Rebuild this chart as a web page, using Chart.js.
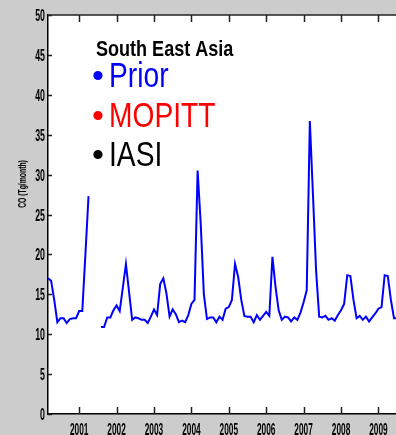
<!DOCTYPE html>
<html>
<head>
<meta charset="utf-8">
<script src="https://cdn.jsdelivr.net/npm/chart.js@4.4.1/dist/chart.umd.min.js"></script>
<style>
  html, body { margin: 0; padding: 0; background: #cccccc; }
  canvas { display: block; }
</style>
</head>
<body>
<canvas id="coChart" width="396" height="435"></canvas>
<script>
// monthly CO emissions, first value is March 2000
const startYear = 2000;
const startMonth = 3;
const priorCO = [
  17.0, 16.7, 14.3, 11.5, 12.0, 12.0, 11.4, 11.9, 12.0, 12.0, 12.9, 12.9, 20.0, 27.3,
  null, null, null,
  10.9, 10.9, 12.1, 12.1, 13.0, 13.6, 12.9, 15.8, 18.8, 15.3, 11.8, 12.1, 12.0, 11.8,
  11.8, 11.4, 12.2, 13.1, 12.4, 16.3, 17.0, 15.1, 12.2, 13.1, 12.5, 11.5, 11.7, 11.5,
  12.4, 13.8, 14.3, 30.5, 23.8, 15.0, 11.9, 12.1, 12.1, 11.5, 12.2, 11.8, 13.2, 13.4,
  14.3, 18.8, 17.2, 14.3, 12.3, 12.2, 12.2, 11.5, 12.4, 11.8, 12.3, 12.8, 12.3, 19.7,
  15.9, 13.0, 11.8, 12.2, 12.1, 11.6, 12.1, 11.8, 12.7, 14.0, 15.5, 36.7, 27.5, 18.0,
  12.2, 12.1, 12.3, 11.8, 12.0, 11.7, 12.4, 13.0, 13.8, 17.4, 17.3, 14.3, 12.0, 12.3,
  11.8, 12.2, 11.6, 12.1, 12.6, 13.2, 13.4, 17.4, 17.3, 14.3, 12.0, 12.0
];
const yearTicks = [2001, 2002, 2003, 2004, 2005, 2006, 2007, 2008, 2009];
const yTicks = [0, 5, 10, 15, 20, 25, 30, 35, 40, 45, 50];
const regionName = 'South East Asia';
const legendLabels = ['Prior', 'MOPITT', 'IASI'];
const legendColors = ['#0000ff', '#ff0000', '#000000'];
const yTitle = 'CO (Tg/month)';

const sans = '"Liberation Sans", Arial, sans-serif';
const xMin = startYear + (startMonth - 1) / 12;
const xMax = 2009.47;

const points = priorCO.map((v, i) => ({ x: startYear + (startMonth - 1 + i) / 12, y: v }));

// squeezed text, the original figure was stretched
function putText(ctx, str, x, y, font, sx, sy, align, baseline, color, angle) {
  ctx.save();
  ctx.translate(x, y);
  if (angle) ctx.rotate(angle);
  ctx.scale(sx, sy);
  ctx.font = font;
  ctx.fillStyle = color;
  ctx.textAlign = align;
  ctx.textBaseline = baseline;
  ctx.fillText(str, 0, 0);
  ctx.restore();
}

const framePlugin = {
  id: 'frame',
  beforeDraw(chart) {
    const { ctx, chartArea: a } = chart;
    ctx.save();
    ctx.fillStyle = '#cccccc';
    ctx.fillRect(0, 0, chart.width, chart.height);
    ctx.fillStyle = '#ffffff';
    ctx.fillRect(a.left, a.top, a.right - a.left, a.bottom - a.top);
    ctx.restore();
  },
  afterDraw(chart) {
    const { ctx, chartArea: a, scales } = chart;
    ctx.save();
    ctx.strokeStyle = '#222';
    ctx.lineWidth = 1.5;
    ctx.beginPath();
    ctx.moveTo(a.left, a.top);
    ctx.lineTo(a.right, a.top);
    yearTicks.forEach(yr => {
      const px = Math.round(scales.x.getPixelForValue(yr)) + 0.5;
      ctx.moveTo(px, a.bottom);
      ctx.lineTo(px, a.bottom - 7);
      ctx.moveTo(px, a.top);
      ctx.lineTo(px, a.top + 7);
    });
    yTicks.forEach(v => {
      const py = Math.round(scales.y.getPixelForValue(v)) + 0.5;
      ctx.moveTo(a.left, py);
      ctx.lineTo(a.left + 4, py);
    });
    ctx.stroke();
    ctx.restore();

    // tick labels
    yearTicks.forEach(yr => {
      putText(ctx, String(yr), scales.x.getPixelForValue(yr), a.bottom + 21,
        'bold 16px ' + sans, 0.52, 1, 'center', 'alphabetic', '#000');
    });
    yTicks.forEach(v => {
      putText(ctx, String(v), a.left - 3, scales.y.getPixelForValue(v) + 6,
        'bold 16px ' + sans, 0.55, 1, 'right', 'alphabetic', '#000');
    });

    // region name and text legend
    putText(ctx, regionName, 96, 56, 'bold 22px ' + sans, 0.82, 1, 'left', 'alphabetic', '#000');
    legendLabels.forEach((lab, i) => {
      const base = 87 + i * 39.5;
      putText(ctx, lab, 109, base, '30px ' + sans, 0.94, 1.15, 'left', 'alphabetic', legendColors[i]);
      putText(ctx, '\u2022', 98, base - 9, '34px ' + sans, 1, 1, 'center', 'middle', legendColors[i]);
    });

    // y axis title
    putText(ctx, yTitle, 22.5, 184, 'bold 11px ' + sans, 0.62, 1, 'center', 'middle', '#000', -Math.PI / 2);
  }
};

new Chart(document.getElementById('coChart'), {
  type: 'line',
  data: {
    datasets: [{
      label: 'Prior',
      data: points,
      borderColor: '#0000ff',
      borderWidth: 2,
      pointRadius: 0,
      tension: 0,
      spanGaps: false,
      fill: false
    }]
  },
  options: {
    responsive: false,
    animation: false,
    layout: { padding: { top: 15, left: 0, right: 0, bottom: 0 } },
    plugins: { legend: { display: false }, tooltip: { enabled: false } },
    scales: {
      x: {
        type: 'linear',
        min: xMin,
        max: xMax,
        afterBuildTicks: scale => { scale.ticks = yearTicks.map(v => ({ value: v })); },
        afterFit: scale => { scale.height = 21; },
        grid: { display: false, drawTicks: false },
        border: { display: true, color: '#000', width: 1.5 },
        ticks: { display: false }
      },
      y: {
        min: 0,
        max: 50,
        afterBuildTicks: scale => { scale.ticks = yTicks.map(v => ({ value: v })); },
        afterFit: scale => { scale.width = 48; },
        grid: { display: false, drawTicks: false },
        border: { display: true, color: '#000', width: 1.5 },
        ticks: { display: false }
      }
    }
  },
  plugins: [framePlugin]
});
</script>
</body>
</html>
